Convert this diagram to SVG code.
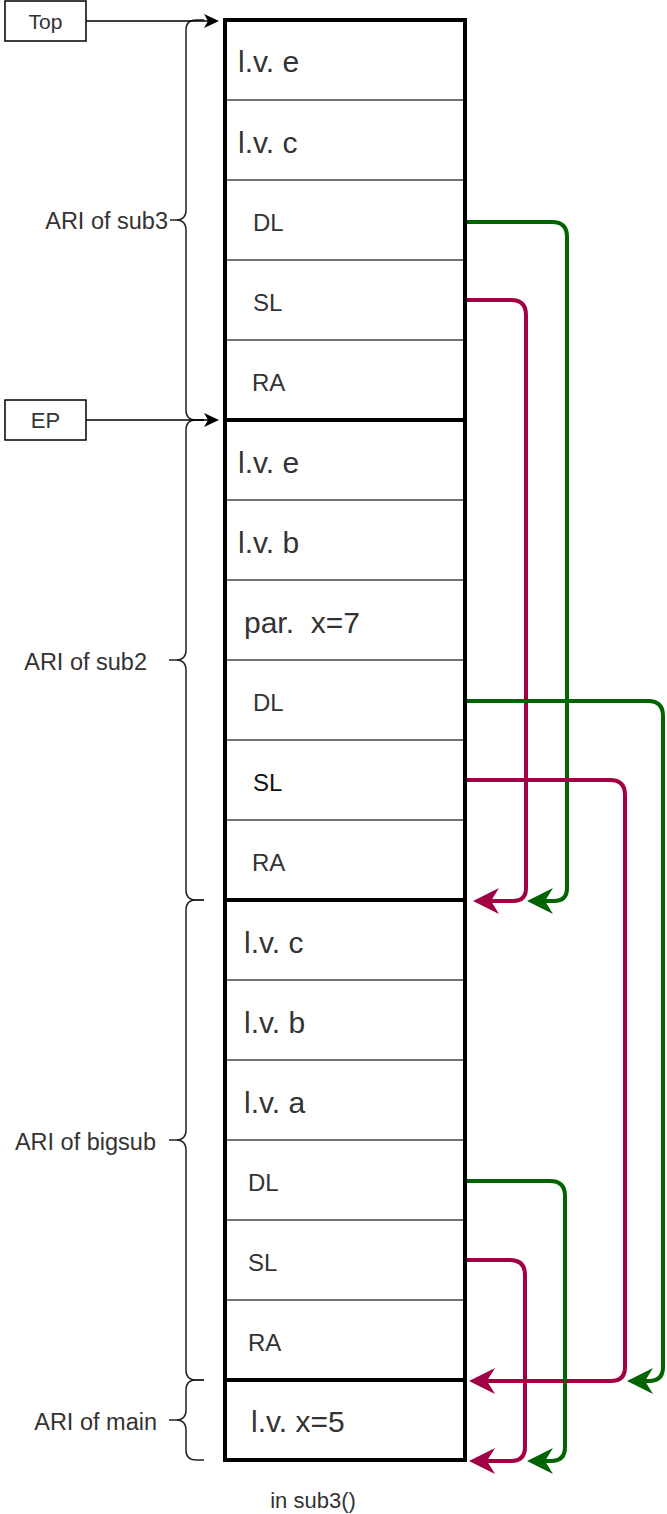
<svg xmlns="http://www.w3.org/2000/svg" width="667" height="1514" viewBox="0 0 667 1514">
  <style>
    text { font-family: "Liberation Sans", Arial, sans-serif; fill: #333; }
    .big { font-size: 30px; }
    .small { font-size: 24px; }
    .lbl { font-size: 23.5px; text-anchor: end; }
    .box { fill: #fff; stroke: #000; stroke-width: 1.5; }
    .sep { stroke: #444; stroke-width: 1.5; }
    .thick { stroke: #000; stroke-width: 4; fill: none; }
    .brace { fill: none; stroke: #222; stroke-width: 1.5; }
    .ptr { fill: none; stroke: #000; stroke-width: 1.5; }
    .dl { fill: none; stroke: #006400; stroke-width: 4; stroke-linejoin: round; }
    .sl { fill: none; stroke: #a20045; stroke-width: 4; stroke-linejoin: round; }
  </style>
  <defs>
    <marker id="arrowGreen" markerUnits="userSpaceOnUse" markerWidth="28" markerHeight="28" refX="8" refY="13" orient="auto" overflow="visible">
      <path d="M26,13 L0,0 L8,13 L0,26 Z" fill="#006400"/>
    </marker>
    <marker id="arrowRed" markerUnits="userSpaceOnUse" markerWidth="28" markerHeight="28" refX="8" refY="13" orient="auto" overflow="visible">
      <path d="M26,13 L0,0 L8,13 L0,26 Z" fill="#a20045"/>
    </marker>
    <marker id="arrowBlack" markerUnits="userSpaceOnUse" markerWidth="16" markerHeight="14" refX="4" refY="7" orient="auto" overflow="visible">
      <path d="M15,7 L0,0 L4,7 L0,14 Z" fill="#000"/>
    </marker>
  </defs>

  <!-- pointer boxes -->
  <g id="top">
    <rect class="box" x="5" y="1" width="81" height="40"/>
    <text x="45.5" y="21" text-anchor="middle" dominant-baseline="central" style="font-size:21px">Top</text>
  </g>
  <g id="ep">
    <rect class="box" x="5" y="400" width="81" height="40"/>
    <text x="45.5" y="420" text-anchor="middle" dominant-baseline="central" style="font-size:22px">EP</text>
  </g>

  <!-- stack cells -->
  <g id="stack">
    <g class="sep">
      <line x1="225" y1="100" x2="465" y2="100"/>
      <line x1="225" y1="180" x2="465" y2="180"/>
      <line x1="225" y1="260" x2="465" y2="260"/>
      <line x1="225" y1="340" x2="465" y2="340"/>
      <line x1="225" y1="500" x2="465" y2="500"/>
      <line x1="225" y1="580" x2="465" y2="580"/>
      <line x1="225" y1="660" x2="465" y2="660"/>
      <line x1="225" y1="740" x2="465" y2="740"/>
      <line x1="225" y1="820" x2="465" y2="820"/>
      <line x1="225" y1="980" x2="465" y2="980"/>
      <line x1="225" y1="1060" x2="465" y2="1060"/>
      <line x1="225" y1="1140" x2="465" y2="1140"/>
      <line x1="225" y1="1220" x2="465" y2="1220"/>
      <line x1="225" y1="1300" x2="465" y2="1300"/>
    </g>
    <rect class="thick" x="225" y="20" width="240" height="1440"/>
    <line class="thick" x1="225" y1="420" x2="465" y2="420"/>
    <line class="thick" x1="225" y1="900" x2="465" y2="900"/>
    <line class="thick" x1="225" y1="1380" x2="465" y2="1380"/>
  </g>

  <g id="sub3-cells" dominant-baseline="central">
    <text class="big" x="238" y="61">l.v. e</text>
    <text class="big" x="238" y="142">l.v. c</text>
    <text class="small" x="253" y="222">DL</text>
    <text class="small" x="253" y="302">SL</text>
    <text class="small" x="252" y="382">RA</text>
  </g>
  <g id="sub2-cells" dominant-baseline="central">
    <text class="big" x="238" y="462">l.v. e</text>
    <text class="big" x="238" y="542">l.v. b</text>
    <text class="big" x="244" y="622" xml:space="preserve">par.  x=7</text>
    <text class="small" x="253" y="702">DL</text>
    <text class="small" x="253" y="782" style="fill:#111">SL</text>
    <text class="small" x="252" y="862">RA</text>
  </g>
  <g id="bigsub-cells" dominant-baseline="central">
    <text class="big" x="244" y="942">l.v. c</text>
    <text class="big" x="244" y="1022">l.v. b</text>
    <text class="big" x="244" y="1102">l.v. a</text>
    <text class="small" x="248" y="1182">DL</text>
    <text class="small" x="248" y="1262">SL</text>
    <text class="small" x="248" y="1342">RA</text>
  </g>
  <g id="main-cells" dominant-baseline="central">
    <text class="big" x="251" y="1421">l.v. x=5</text>
  </g>

  <!-- braces with their labels -->
  <g id="brace-sub3">
    <path class="brace" d="M204,20 L196,20 Q186,20 186,30 L186,210 Q186,220 176,220 L170,220 M176,220 Q186,220 186,230 L186,410 Q186,420 196,420 L204,420"/>
    <text class="lbl" x="168" y="221" dominant-baseline="central">ARI of sub3</text>
  </g>
  <g id="brace-sub2">
    <path class="brace" d="M204,420 L196,420 Q186,420 186,430 L186,650 Q186,660 176,660 L169,660 M176,660 Q186,660 186,670 L186,890 Q186,900 196,900 L204,900"/>
    <text class="lbl" x="147" y="662" dominant-baseline="central">ARI of sub2</text>
  </g>
  <g id="brace-bigsub">
    <path class="brace" d="M204,900 L196,900 Q186,900 186,910 L186,1130 Q186,1140 176,1140 L169,1140 M176,1140 Q186,1140 186,1150 L186,1370 Q186,1380 196,1380 L204,1380"/>
    <text class="lbl" x="156" y="1142" dominant-baseline="central">ARI of bigsub</text>
  </g>
  <g id="brace-main">
    <path class="brace" d="M204,1380 L196,1380 Q186,1380 186,1390 L186,1410 Q186,1420 176,1420 L169,1420 M176,1420 Q186,1420 186,1430 L186,1450 Q186,1460 196,1460 L204,1460"/>
    <text class="lbl" x="157" y="1422" dominant-baseline="central">ARI of main</text>
  </g>

  <text id="caption" x="313" y="1500" text-anchor="middle" dominant-baseline="central" style="font-size:22px">in sub3()</text>

  <!-- links -->
  <g id="connectors">
    <path class="ptr" d="M86,21 L208,21" marker-end="url(#arrowBlack)"/>
    <path class="ptr" d="M86,420 L208,420" marker-end="url(#arrowBlack)"/>

    <path class="dl" d="M467,222 L552,222 Q567,222 567,237 L567,888 Q567,901 554,901 L545,901" marker-end="url(#arrowGreen)"/>
    <path class="sl" d="M467,300 L511,300 Q526,300 526,315 L526,888 Q526,901 513,901 L491,901" marker-end="url(#arrowRed)"/>
    <path class="dl" d="M467,701 L648,701 Q663,701 663,716 L663,1367 Q663,1381 649,1381 L645,1381" marker-end="url(#arrowGreen)"/>
    <path class="sl" d="M467,780 L610,780 Q625,780 625,795 L625,1367 Q625,1381 611,1381 L487,1381" marker-end="url(#arrowRed)"/>
    <path class="dl" d="M467,1181 L550,1181 Q565,1181 565,1196 L565,1447 Q565,1461 551,1461 L545,1461" marker-end="url(#arrowGreen)"/>
    <path class="sl" d="M467,1260 L510,1260 Q525,1260 525,1275 L525,1447 Q525,1461 511,1461 L487,1461" marker-end="url(#arrowRed)"/>
  </g>
</svg>
